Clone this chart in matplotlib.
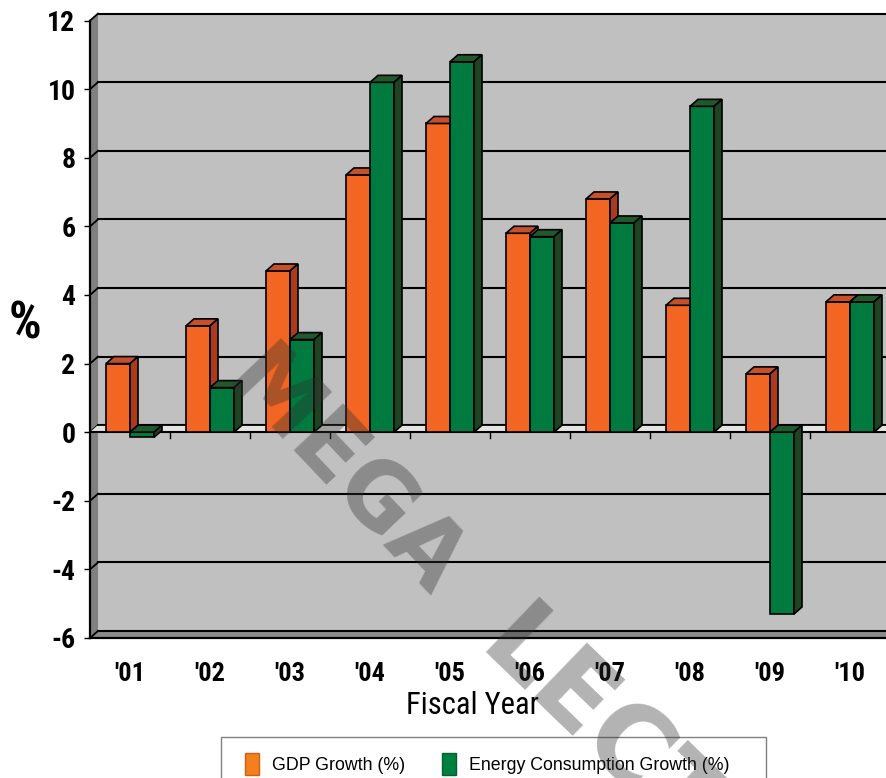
import numpy as np
import matplotlib
matplotlib.use('Agg')
import matplotlib.pyplot as plt
from matplotlib import font_manager
from matplotlib.font_manager import FontProperties
from matplotlib.patches import Rectangle, Polygon, Patch


def narrow_font(bold):
    """Path of an installed narrow/condensed sans, or None."""
    prefs = ['liberation sans narrow', 'arial narrow', 'roboto condensed',
             'open sans condensed', 'dejavu sans condensed', 'noto sans condensed']
    found = []
    for f in font_manager.fontManager.ttflist:
        key = (f.name + ' ' + f.fname).lower()
        if f.style != 'normal':
            continue
        is_bold = f.weight in ('bold', 700, 'heavy') or (isinstance(f.weight, int) and f.weight >= 600)
        if is_bold != bold:
            continue
        cond = ('narrow' in key or 'condensed' in key
                or f.stretch in ('condensed', 'semi-condensed', 'extra-condensed'))
        if not cond:
            continue
        rank = next((i for i, p in enumerate(prefs) if p in key.replace('-', ' ')), len(prefs))
        found.append((rank, f.fname))
    return sorted(found)[0][1] if found else None


def fp(size, bold):
    path = narrow_font(bold)
    if path:
        return FontProperties(fname=path, size=size)
    return FontProperties(family='DejaVu Sans', size=size * 0.9,
                          weight='bold' if bold else 'normal')


plt.rcParams['axes.unicode_minus'] = False

years = ["'01", "'02", "'03", "'04", "'05", "'06", "'07", "'08", "'09", "'10"]
gdp = [2.0, 3.1, 4.7, 7.5, 9.0, 5.8, 6.8, 3.7, 1.7, 3.8]
energy = [-0.15, 1.3, 2.7, 10.2, 10.8, 5.7, 6.1, 9.5, -5.3, 3.8]
yticks = [-6, -4, -2, 0, 2, 4, 6, 8, 10, 12]

ORANGE, ORANGE_TOP, ORANGE_SIDE = '#F26522', '#C6502A', '#A93C1E'
GREEN, GREEN_TOP, GREEN_SIDE = '#007A3E', '#22592C', '#1E4323'

DX, DY = 0.1, 0.204      # depth offset of the 3-D look, in data units
W = 0.3                  # bar width
X0, X1 = 0.5, 10.6
YMIN, YMAX = -6, 12

fig = plt.figure(figsize=(8.86, 7.78), dpi=100)
ax = fig.add_axes([90 / 886, 140 / 778, 808 / 886, 627.7 / 778])
ax.set_xlim(X0, X1)
ax.set_ylim(YMIN, 12.3)
for s in ax.spines.values():
    s.set_visible(False)

# back wall, side wall and floor
ax.add_patch(Rectangle((X0 + DX, YMIN + DY), 12, YMAX - YMIN,
                       fc='#C0C0C0', ec='none', zorder=0))
ax.add_patch(Polygon([(X0, YMIN), (X0, YMAX), (X0 + DX, YMAX + DY), (X0 + DX, YMIN + DY)],
                     closed=True, fc='#808080', ec='none', zorder=0.5, clip_on=False))
ax.add_patch(Polygon([(X0, YMIN), (12, YMIN), (12, YMIN + DY), (X0 + DX, YMIN + DY)],
                     closed=True, fc='#8A8A8A', ec='none', zorder=0.5))

# gridlines wrap round the side wall
for t in yticks:
    ax.plot([X0, X0 + DX], [t, t + DY], color='black', lw=1.3, zorder=1, clip_on=False)
    ax.plot([X0 + DX, 12], [t + DY, t + DY], color='black', lw=1.5, zorder=1, clip_on=False)

# plane at zero that the columns stand on
ax.add_patch(Polygon([(X0, 0), (12, 0), (12, DY), (X0 + DX, DY)],
                     closed=True, fc='#E4E4E4', ec='none', zorder=1.2))
ax.plot([X0 + DX, 12], [DY, DY], color='black', lw=1.3, zorder=1.3)
ax.plot([X0, 12], [0, 0], color='black', lw=1.5, zorder=1.3)
for b in np.arange(1.5, 11, 1.0):
    ax.plot([b, b], [0, -0.175], color='black', lw=1, zorder=1.3)

ax.plot([X0, X0], [YMIN, YMAX], color='black', lw=1.6, zorder=6, clip_on=False)
ax.plot([X0, 12], [YMIN, YMIN], color='black', lw=1.6, zorder=6, clip_on=False)


def faces(x_left, value, top, side, z):
    lo, hi = min(0, value), max(0, value)
    xr = x_left + W
    ax.add_patch(Polygon([(x_left, hi), (xr, hi), (xr + DX, hi + DY), (x_left + DX, hi + DY)],
                         closed=True, fc=top, ec='black', lw=1.2, zorder=z))
    ax.add_patch(Polygon([(xr, lo), (xr, hi), (xr + DX, hi + DY), (xr + DX, lo + DY)],
                         closed=True, fc=side, ec='black', lw=1.2, zorder=z))


x = np.arange(1, len(years) + 1)
ax.bar(x - W / 2, gdp, width=W, color=ORANGE, edgecolor='black', lw=1.2, zorder=3)
for xi, v in zip(x, gdp):
    faces(xi - W, v, ORANGE_TOP, ORANGE_SIDE, 3.5)
ax.bar(x + W / 2, energy, width=W, color=GREEN, edgecolor='black', lw=1.2, zorder=4)
for xi, v in zip(x, energy):
    faces(xi, v, GREEN_TOP, GREEN_SIDE, 4.5)

ax.set_yticks(yticks)
ax.set_yticklabels([str(t) for t in yticks], fontproperties=fp(20, True))
ax.tick_params(axis='y', direction='out', length=4.5, width=1, pad=6)
ax.set_xticks(x)
ax.set_xticklabels(years, fontproperties=fp(19, True))
ax.tick_params(axis='x', length=0, pad=17)

ax.set_xlabel('Fiscal Year', fontproperties=fp(22, False), va='center')
ax.xaxis.set_label_coords(0.474, -0.107)
ax.set_ylabel('%', fontproperties=fp(37, True), rotation=0, va='center', ha='center')
ax.yaxis.set_label_coords(-0.08, 0.5)

# legend box runs off the bottom edge
fig.add_artist(Rectangle((221 / 886, -0.05), (766 - 221) / 886, 1.05 - 737 / 778,
                         transform=fig.transFigure, fc='white', ec='#808080', lw=1))
handles = [Patch(fc='#F47F20', ec='#D06010'), Patch(fc='#00803F', ec='#006030')]
fig.legend(handles, ['GDP Growth (%)', 'Energy Consumption Growth (%)'],
           loc='upper left', bbox_to_anchor=(245 / 886, 1 - 753 / 778), ncol=2,
           frameon=False, prop={'family': 'Liberation Sans', 'size': 12.8},
           handlelength=0.8, handleheight=1.5, handletextpad=0.7,
           columnspacing=2.1, borderpad=0, borderaxespad=0)

# watermark across the plot
mark = dict(fontweight='bold', family='DejaVu Sans', color='#313131', alpha=0.37,
            rotation_mode='anchor', ha='left', va='center', zorder=20)
fig.text(241 / 886, 1 - 366 / 778, 'MEGA', fontsize=66, rotation=-46.5, **mark)
fig.text(495 / 886, 1 - 630 / 778, 'LECTURE', fontsize=76, rotation=-44, **mark)

fig.savefig('out.png', dpi=100)
